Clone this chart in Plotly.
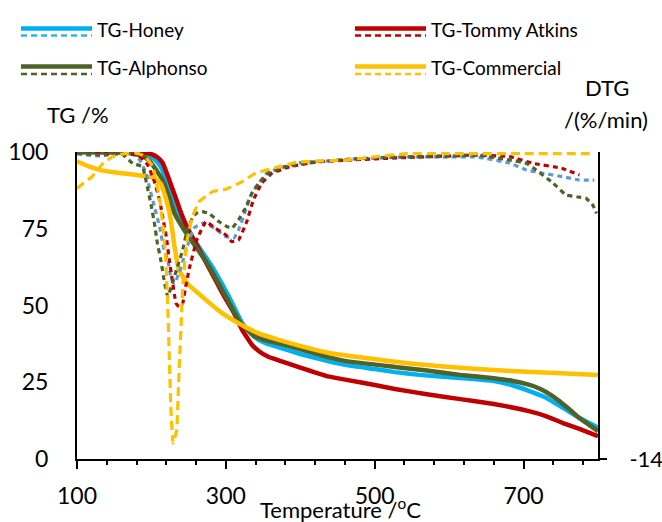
import plotly.graph_objects as go

# ---------------- data ----------------
# TG curves (%), temperature in degC
honey_T = [100, 150, 175, 190, 200, 206, 213, 220, 228, 235, 248, 264, 280, 292, 304, 313, 322, 333, 344, 355,
           371, 400, 437, 464, 500, 527, 560, 615, 660, 684, 707, 729, 752, 774, 800]
honey_TG = [100, 100, 99.8, 99.2, 98.3, 97.2, 95, 90.9, 85.5, 80, 74.6, 69, 63.2, 58.3, 52.9, 48.5, 44.2, 41, 38.8, 37.6,
            36.4, 34.2, 31.9, 30.5, 29.3, 28.3, 27.4, 26.4, 25.4, 24.1, 22.2, 20.1, 16.8, 13.5, 10.2]

tommy_T = [100, 170, 190, 200, 208, 215, 224, 232, 240, 250, 262, 274, 286, 298, 311, 322, 335, 344, 357, 375,
           397, 437, 464, 500, 527, 570, 615, 660, 707, 730, 752, 775, 800]
tommy_TG = [100, 100, 99.8, 99.3, 98.3, 96.5, 90.9, 85.5, 80, 74.5, 69.2, 63.7, 58.3, 52.9, 47.5, 42, 37.2, 35.2, 33.3,
            31.8, 30, 26.9, 25.7, 24.1, 22.8, 21.1, 19.5, 17.9, 15.6, 14, 11.8, 9.8, 7.4]

alph_T = [100, 160, 175, 188, 197, 204, 209, 215, 223, 231, 244, 260, 275, 288, 300, 317, 328, 340, 355, 371,
          397, 437, 464, 527, 570, 615, 660, 684, 707, 718, 729, 740, 752, 763, 774, 787, 800]
alph_TG = [100, 99.8, 99.5, 98.6, 97.2, 95, 93.2, 90.9, 85.8, 80, 74.6, 69, 63.7, 58.2, 52.9, 45.3, 42.2, 39.8, 38.6,
           37.7, 36, 33.2, 31.8, 30, 28.8, 27.4, 26.3, 25.5, 24.2, 23.3, 22, 20.3, 18.1, 15.9, 13.5, 11.3, 9.1]

comm_T = [100, 115, 130, 150, 170, 190, 200, 206, 213, 220, 226, 231, 237, 248, 268, 295, 317, 344, 371, 397,
          437, 464, 527, 570, 615, 660, 704, 750, 800]
comm_TG = [97, 95.4, 94.2, 93.4, 92.8, 92.2, 91.8, 91.2, 89.5, 84.5, 78, 69.2, 61.6, 57.2, 52.9, 47.5, 44.2, 40.9, 38.8,
           37, 34.6, 33.6, 31.7, 30.6, 29.7, 29, 28.4, 27.9, 27.4]

# DTG curves (%/min)
honey_dT = [100, 131, 157, 177, 184, 193, 197, 204, 211, 217, 222, 226, 231, 237, 244, 251, 257, 268, 277, 288,
            300, 311, 317, 326, 335, 344, 355, 371, 393, 415, 437, 473, 531, 597, 637, 681, 704, 726, 753, 775, 795]
honey_DTG = [-0.09, -0.18, -0.05, -0.14, -0.36, -0.97, -1.58, -2.49, -3.41, -4.47, -4.92, -5.69, -5.99, -5.53, -4.77,
             -4.01, -3.48, -3.25, -3.33, -3.56, -3.86, -3.92, -3.56, -2.72, -1.88, -1.43, -0.97, -0.74, -0.52, -0.44,
             -0.41, -0.32, -0.23, -0.23, -0.23, -0.50, -0.82, -0.97, -1.13, -1.28, -1.28]

tommy_dT = [100, 140, 182, 195, 204, 211, 215, 220, 224, 228, 233, 237, 242, 246, 251, 261, 273, 286, 300, 308,
            317, 328, 337, 348, 362, 385, 420, 470, 530, 637, 681, 713, 751, 775]
tommy_DTG = [0.0, -0.05, -0.14, -0.59, -1.35, -2.19, -2.95, -3.86, -4.92, -5.84, -6.90, -7.05, -6.90, -6.14, -5.30,
             -4.01, -3.18, -3.48, -3.78, -4.09, -4.01, -3.18, -2.19, -1.43, -0.97, -0.68, -0.46, -0.36, -0.27, -0.14,
             -0.21, -0.52, -0.74, -1.05]

alph_dT = [100, 130, 160, 175, 188, 193, 200, 204, 208, 213, 217, 222, 228, 235, 242, 248, 255, 260, 268, 277,
           291, 302, 308, 317, 326, 335, 344, 357, 380, 420, 470, 530, 600, 637, 681, 704, 717, 740, 757, 771, 784,
           793, 798]
alph_DTG = [-0.05, -0.14, -0.09, -0.52, -0.67, -1.35, -2.49, -3.25, -4.16, -5.00, -5.84, -6.60, -5.99, -5.23, -4.47,
            -3.56, -3.02, -2.80, -2.72, -2.80, -3.18, -3.41, -3.48, -3.10, -2.57, -1.88, -1.43, -0.97, -0.67, -0.46,
            -0.32, -0.23, -0.18, -0.14, -0.36, -0.52, -0.82, -1.43, -1.96, -2.04, -2.11, -2.42, -2.80]

comm_dT = [100, 109, 120, 135, 148, 166, 180, 191, 202, 206, 211, 215, 219, 222, 224, 226, 229, 234, 236, 238,
           240, 242, 245, 248, 255, 264, 282, 300, 322, 340, 371, 397, 464, 497, 544, 600, 700, 795]
comm_DTG = [-1.66, -1.41, -1.13, -0.52, -0.21, -0.06, -0.05, -0.18, -0.67, -1.28, -2.11, -3.25, -4.77, -7.05, -9.33,
            -11.61, -13.28, -12.68, -11.00, -9.33, -7.81, -6.14, -4.92, -4.01, -2.95, -2.27, -1.81, -1.70, -1.35,
            -0.97, -0.67, -0.46, -0.36, -0.23, -0.07, -0.07, -0.07, -0.07]

series_names = ["TG-Honey", "TG-Tommy Atkins", "TG-Alphonso", "TG-Commercial"]
tg_colors = ["#00B0F0", "#C00000", "#4F6228", "#FFC000"]
dtg_colors = ["#5B9BD5", "#C00000", "#4F6228", "#FFC000"]
legend_dash_colors = ["#29B6F0", "#C00000", "#4F6228", "#FFC000"]

x_ticks = [100, 300, 500, 700]
y_ticks = [0, 25, 50, 75, 100]
y2_ticks = [-14]

# ---------------- layout geometry ----------------
W, H = 662, 522
PL, PR, PT, PB = 77, 598, 152, 459
FONT = "Lato"


def fx(px):
    return (px - PL) / (PR - PL)


def fy(py):
    return (PB - py) / (PB - PT)


fig = go.Figure()

tg_sets = [(honey_T, honey_TG), (tommy_T, tommy_TG), (alph_T, alph_TG), (comm_T, comm_TG)]
dtg_sets = [(honey_dT, honey_DTG), (tommy_dT, tommy_DTG), (alph_dT, alph_DTG), (comm_dT, comm_DTG)]
dash_styles = ["5px,4px", "5px,4px", "5px,4px", "9px,5px"]

for (tx, ty), name, col in zip(tg_sets, series_names, tg_colors):
    fig.add_trace(go.Scatter(x=tx, y=ty, mode="lines", name=name, showlegend=False,
                             line=dict(color=col, width=4.5, shape="spline", smoothing=0.3),
                             yaxis="y"))

for (tx, ty), name, col, ds in zip(dtg_sets, series_names, dtg_colors, dash_styles):
    fig.add_trace(go.Scatter(x=tx, y=ty, mode="lines", name=name.replace("TG", "DTG"), showlegend=False,
                             line=dict(color=col, width=3.2, dash=ds, shape="spline", smoothing=0.3),
                             yaxis="y2"))

# custom legend: solid line + dashed line below each entry
shapes = []
annotations = []
legend_pos = [(21, 92, 28.5, 35.5, 29), (355, 426, 28.5, 35.5, 29), (21, 92, 66.5, 74, 67), (355, 426, 66.5, 74, 67)]
for (x0, x1, ys, yd, yt), name, col, dcol in zip(legend_pos, series_names, tg_colors, legend_dash_colors):
    shapes.append(dict(type="line", xref="paper", yref="paper", x0=fx(x0), x1=fx(x1), y0=fy(ys), y1=fy(ys),
                       line=dict(color=col, width=4.5)))
    shapes.append(dict(type="line", xref="paper", yref="paper", x0=fx(x0), x1=fx(x1), y0=fy(yd), y1=fy(yd),
                       line=dict(color=dcol, width=2.5, dash="6px,4px")))
    annotations.append(dict(text=name, xref="paper", yref="paper", x=fx(x1 + 3), y=fy(yt), xanchor="left",
                            yanchor="middle", showarrow=False, font=dict(family=FONT, size=19, color="black")))

annotations += [
    dict(text="TG /%", xref="paper", yref="paper", x=fx(78), y=fy(115), xanchor="center", yanchor="middle",
         showarrow=False, font=dict(family=FONT, size=22, color="black")),
    dict(text="DTG", xref="paper", yref="paper", x=fx(607), y=fy(88), xanchor="center", yanchor="middle",
         showarrow=False, font=dict(family=FONT, size=22, color="black")),
    dict(text="/(%/min)", xref="paper", yref="paper", x=fx(606), y=fy(120), xanchor="center", yanchor="middle",
         showarrow=False, font=dict(family=FONT, size=22, color="black")),
    dict(text="Temperature /<sup>o</sup>C", xref="paper", yref="paper", x=fx(340), y=fy(508), xanchor="center",
         yanchor="middle", showarrow=False, font=dict(family=FONT, size=22, color="black")),
]

fig.update_layout(
    width=W, height=H,
    margin=dict(l=PL, r=W - PR, t=PT, b=H - PB, pad=0, autoexpand=False),
    paper_bgcolor="white", plot_bgcolor="white",
    font=dict(family=FONT, size=22, color="black"),
    showlegend=False,
    shapes=shapes,
    annotations=annotations,
    xaxis=dict(range=[100, 800], tickvals=x_ticks, ticktext=[str(v) for v in x_ticks], automargin=False,
               showline=True, linecolor="black", linewidth=2, ticks="outside", ticklen=8, tickwidth=2,
               tickcolor="black", showgrid=False, zeroline=False, ticklabelstandoff=7,
               tickfont=dict(family=FONT, size=23),
               minor=dict(tick0=100, dtick=40, ticks="outside", ticklen=4, tickwidth=2, tickcolor="black",
                          showgrid=False)),
    yaxis=dict(range=[0, 100], tickvals=y_ticks, ticktext=[str(v) for v in y_ticks], automargin=False,
               showline=True, linecolor="black", linewidth=2, ticks="", showgrid=False, zeroline=False,
               ticklabelstandoff=22, tickfont=dict(family=FONT, size=23)),
    yaxis2=dict(range=[-14, 0], overlaying="y", side="right", tickvals=y2_ticks, automargin=False,
                ticktext=[str(v) for v in y2_ticks], showline=True, linecolor="black", linewidth=2,
                ticks="outside", ticklen=7, tickwidth=2, tickcolor="black", showgrid=False, zeroline=False,
                ticklabelstandoff=18, tickfont=dict(family=FONT, size=22)),
)

fig.write_html("out.html", config={"displayModeBar": False},
               post_script="document.body.style.margin='0px';document.body.style.overflow='hidden';")
